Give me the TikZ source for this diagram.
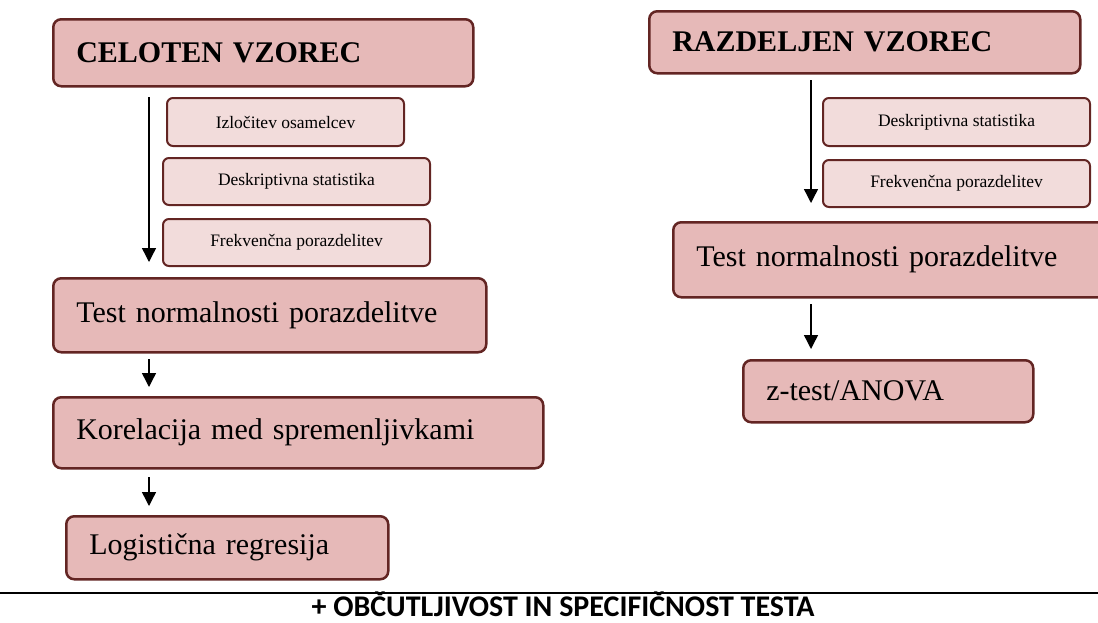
\documentclass[tikz,border=0pt]{standalone}
\usepackage{fontspec}
\setmainfont{Liberation Serif}
\newfontfamily\calib{Carlito}
\usepackage{tikz}
\usetikzlibrary{arrows.meta,positioning}

\definecolor{boxline}{HTML}{632523}
\definecolor{bigfill}{HTML}{E6B9B8}
\definecolor{smallfill}{HTML}{F2DCDB}

\begin{document}
\begin{tikzpicture}[x=1pt,y=-1pt,
	bigbox/.style 2 args={draw=boxline, line width=2.5pt, fill=bigfill, rounded corners=8pt,
		anchor=north west, inner xsep=23pt, inner ysep=0pt, align=left,
		text width=#1-46pt, minimum height=#2, font=\fontsize{30}{34}\selectfont},
	smallbox/.style 2 args={draw=boxline, line width=2pt, fill=smallfill, rounded corners=6pt,
		anchor=north west, inner sep=0pt, minimum width=#1, minimum height=#2,
		font=\fontsize{17.5}{20}\selectfont},
	arr/.style={-{Triangle[width=14pt,length=14pt]}, line width=1.4pt}]
	\useasboundingbox (0,0) rectangle (1098,622);

	% celoten vzorec
	\node[bigbox={420pt}{67pt}] (cel) at (52,18) {\textbf{CELOTEN VZOREC}};
	\node[smallbox={237pt}{48pt}] (izl) at (166,97) {Izločitev osamelcev};
	\node[smallbox={267pt}{47pt}] (desk_l) at (162,157) {Deskriptivna statistika};
	\node[smallbox={267pt}{47pt}, below=12pt of desk_l] (frek_l) {Frekvenčna porazdelitev};
	\node[bigbox={433pt}{74pt}] (test_l) at (52,277) {Test normalnosti porazdelitve};
	\node[bigbox={490pt}{71pt}] (kor) at (52,396) {Korelacija med spremenljivkami};
	\node[bigbox={322pt}{63pt}] (log) at (65,515) {Logistična regresija};

	% razdeljen vzorec
	\node[bigbox={431pt}{62pt}] (raz) at (648,10) {\textbf{RAZDELJEN VZOREC}};
	\node[smallbox={267pt}{48pt}] (desk_r) at (822,97) {Deskriptivna statistika};
	\node[smallbox={267pt}{47pt}, below=12pt of desk_r] (frek_r) {Frekvenčna porazdelitev};
	\node[bigbox={460pt}{75pt}] (test_r) at (672,221) {Test normalnosti porazdelitve};
	\node[bigbox={290pt}{62pt}] (zt) at (742,359) {z-test/ANOVA};

	\coordinate (a1_s) at (149,97);  \coordinate (a1_e) at (149,262);
	\coordinate (a2_s) at (149,359); \coordinate (a2_e) at (149,387);
	\coordinate (a3_s) at (149,477); \coordinate (a3_e) at (149,506);
	\coordinate (b1_s) at (811,80);  \coordinate (b1_e) at (811,203);
	\coordinate (b2_s) at (811,304); \coordinate (b2_e) at (811,349);

	\draw[arr] (a1_s) -- (a1_e);
	\draw[arr] (a2_s) -- (a2_e);
	\draw[arr] (a3_s) -- (a3_e);
	\draw[arr] (b1_s) -- (b1_e);
	\draw[arr] (b2_s) -- (b2_e);

	\draw[line width=2pt] (0,593) -- (1098,593);
	\node[anchor=base, inner sep=0pt, font=\calib\bfseries\fontsize{30}{34}\selectfont] (sens) at (563,616)
		{+ OBČUTLJIVOST IN SPECIFIČNOST TESTA};
\end{tikzpicture}
\end{document}
